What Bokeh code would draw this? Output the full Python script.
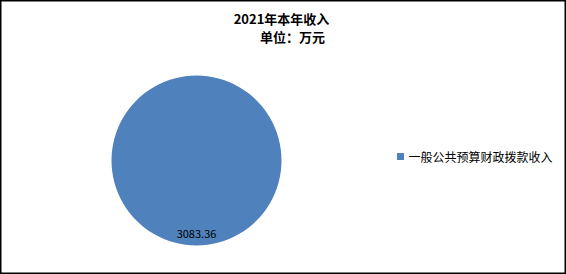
import numpy as np
from bokeh.plotting import figure
from bokeh.models import Range1d, ColumnDataSource
from bokeh.core.properties import value
from bokeh.embed import file_html
from bokeh.resources import INLINE

# Chart data
categories = ["一般公共预算财政拨款收入"]
amounts = [3083.36]
colors = ["#4F81BD"]
title_lines = ["2021年本年收入", "单位：万元"]

W, H = 566, 274
FONT = "Noto Sans CJK SC"

p = figure(width=W, height=H, output_backend="svg", toolbar_location=None,
           x_range=Range1d(0, W), y_range=Range1d(0, H),
           min_border=0, background_fill_color="white",
           border_fill_color="white")
p.axis.visible = False
p.grid.visible = False
p.outline_line_color = "black"
p.outline_line_width = 2

# Pie slices: start at 12 o'clock, run clockwise.
# A hair is trimmed off the full turn so a single 100% slice still renders.
cx, cy, r = 196, H - 160, 85
vals = np.array(amounts, dtype=float)
frac = vals / vals.sum()
turn = 2 * np.pi * (1 - 1e-6)
ends = np.pi / 2 - turn * np.cumsum(frac)
starts = np.concatenate([[np.pi / 2], ends[:-1]])
mids = (starts + ends) / 2
src = ColumnDataSource(dict(start=starts, end=ends, color=colors,
                            label=[f"{v:.2f}" for v in amounts],
                            lx=cx + 0.86 * r * np.cos(mids),
                            ly=cy + 0.86 * r * np.sin(mids)))
p.wedge(x=cx, y=cy, radius=r, start_angle="start", end_angle="end",
        direction="clock", fill_color="color", line_color=None, source=src)

# Data labels
p.text(x="lx", y="ly", text="label", source=src, text_align="center",
       text_baseline="middle", text_font=value(FONT), text_font_size="11px",
       text_color="black")

# Title
p.text(x=[281], y=[H - 18], text=[title_lines[0]], text_align="center",
       text_baseline="middle", text_font=value(FONT), text_font_size="13px",
       text_font_style="bold", text_color="black")
p.text(x=[292], y=[H - 36], text=[title_lines[1]], text_align="center",
       text_baseline="middle", text_font=value(FONT), text_font_size="13px",
       text_font_style="bold", text_color="black")

# Legend
p.scatter(x=[400], y=[H - 156], marker="square", size=7,
          fill_color=colors[0], line_color=None)
p.text(x=[408], y=[H - 156], text=categories, text_align="left",
       text_baseline="middle", text_font=value(FONT), text_font_size="12px",
       text_color="black")

open("out.html", "w").write(file_html(p, INLINE))
